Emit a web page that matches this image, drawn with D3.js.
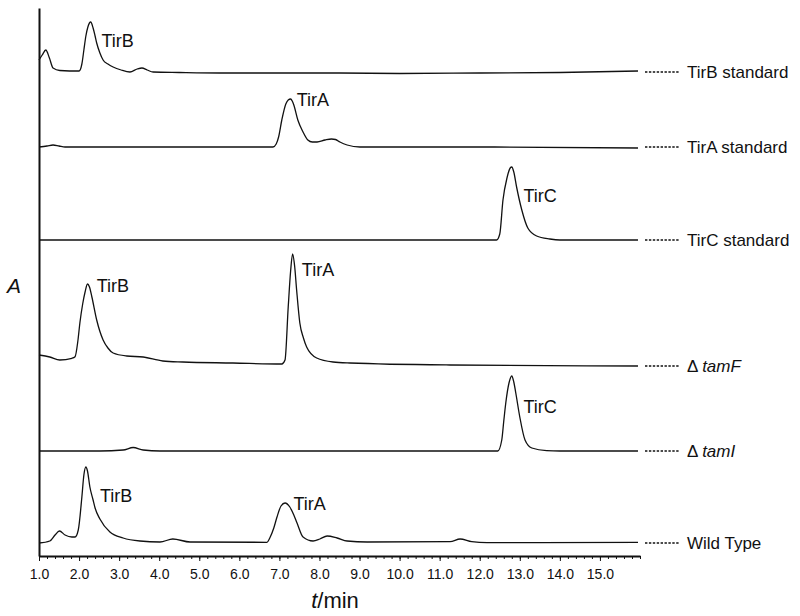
<!DOCTYPE html>
<html>
<head>
<meta charset="utf-8">
<script src="https://cdn.jsdelivr.net/npm/d3@7"></script>
<style>
body { margin: 0; background: #fff; }
text { font-family: "Liberation Sans", Arial, Helvetica, sans-serif; fill: #111; }
</style>
</head>
<body>
<div class="chromatogram"></div>
<script>
var width = 800;
var height = 616;

// HPLC traces, [time (min), signal above the trace's own baseline]
var tirBStd = [[1.0,12],[1.08,17],[1.17,22],[1.26,14],[1.35,4],[1.52,1.5],[2.0,1],[2.07,8],[2.12,22],[2.17,36],[2.22,45],[2.29,50],[2.35,44],[2.4,36],[2.44,29],[2.52,19],[2.6,12],[2.72,8],[2.85,5],[3.05,2],[3.27,0],[3.45,3],[3.57,4],[3.7,2],[3.85,0],[4.5,-0.5],[5.5,-1],[7.0,-1],[8.5,-1],[10,-1.5],[12,-1],[14,-0.5],[15.95,1]];
var tirAStd = [[1.0,0],[1.2,1],[1.35,2],[1.5,1],[1.65,0],[4,0],[6.84,0],[6.92,3],[6.98,10],[7.06,27],[7.16,43],[7.22,47],[7.28,48],[7.32,46],[7.36,42],[7.46,27],[7.59,15],[7.71,7],[7.82,5],[7.94,5],[8.14,7],[8.3,8],[8.4,7.5],[8.51,5],[8.69,2],[9.01,0],[12,0],[15.95,-1]];
var tirCStd = [[1.0,0],[6,0],[12.42,0],[12.5,6],[12.58,40],[12.68,62],[12.76,72],[12.8,73],[12.85,68],[12.92,53],[13.05,30],[13.2,12],[13.42,4],[13.75,1],[14.0,0],[15.95,0]];
var tamF = [[1.0,11],[1.27,9],[1.52,6],[1.82,7.7],[1.9,9.3],[1.97,25],[2.02,43],[2.09,62],[2.15,74],[2.21,82],[2.26,79],[2.32,69],[2.44,46],[2.6,26],[2.72,18],[2.85,13],[3.19,10],[3.6,9],[4.09,5],[4.59,4],[5.84,3],[7.06,2],[7.14,6],[7.22,59],[7.28,95],[7.33,112],[7.38,100],[7.43,76],[7.51,43],[7.6,28],[7.68,19],[7.93,8],[8.34,4],[8.76,3],[11.26,1],[15.95,0]];
var tamI = [[1.0,0],[2.52,0],[3.1,1],[3.35,3.5],[3.6,1],[4.02,0],[12.45,0],[12.55,11],[12.6,30],[12.65,48],[12.73,68],[12.8,75],[12.85,69],[12.9,58],[13.0,34],[13.13,11],[13.3,3],[13.67,0.3],[14,0],[15.95,0]];
var wildType = [[1.0,0],[1.27,2],[1.4,8],[1.51,12],[1.65,8],[1.82,6],[1.9,6],[1.98,13],[2.07,46],[2.12,68],[2.17,76],[2.21,72],[2.27,56],[2.35,43],[2.4,35],[2.52,24],[2.77,11],[3.1,5],[3.52,2],[4.02,1],[4.34,4],[4.77,1],[6.69,0.7],[6.76,5],[6.86,15],[6.94,26],[7.04,37],[7.14,40],[7.26,36],[7.36,28],[7.44,20],[7.59,6],[7.84,2],[8.01,4],[8.19,7],[8.44,5],[8.69,2],[9.19,1],[11.26,1.3],[11.51,4],[11.8,1.3],[12.18,0.3],[15.95,0.7]];

var traceData = [tirBStd, tirAStd, tirCStd, tamF, tamI, wildType];
var traceNames = ["TirB standard", "TirA standard", "TirC standard", "tamF", "tamI", "Wild Type"];
var traceMutant = [false, false, false, true, true, false];
var traceOffsets = [484, 409, 316, 190, 105, 13];

// peak labels: trace index, text, time, level above baseline
var peakLabels = [
    [0, "TirB", 2.56, 25],
    [1, "TirA", 7.43, 41],
    [2, "TirC", 13.09, 38],
    [3, "TirB", 2.44, 74],
    [3, "TirA", 7.56, 90],
    [4, "TirC", 13.09, 38],
    [5, "TirB", 2.52, 41],
    [5, "TirA", 7.35, 33]
];

var xTicks = [1, 2, 3, 4, 5, 6, 7, 8, 9, 10, 11, 12, 13, 14, 15];
var xMinorTicks = d3.range(1, 16.01, 0.2);

var x = d3.scaleLinear().domain([1, 16]).range([39, 640]);
var y = d3.scaleLinear().domain([0, 548]).range([556, 8]);

var svg = d3.select(".chromatogram")
    .append("svg")
    .attr("width", width)
    .attr("height", height);

svg.append("rect")
    .attr("width", width)
    .attr("height", height)
    .attr("fill", "white");

// traces
traceData.forEach(function(trace, i) {
    var line = d3.line()
        .x(function(d) { return x(d[0]); })
        .y(function(d) { return y(d[1] + traceOffsets[i]); })
        .curve(d3.curveMonotoneX);

    svg.append("path")
        .attr("d", line(trace))
        .attr("fill", "none")
        .attr("stroke", "#111")
        .attr("stroke-width", 1.3);

    var ly = y(traceOffsets[i]);
    svg.append("line")
        .attr("x1", 645)
        .attr("x2", 680)
        .attr("y1", ly)
        .attr("y2", ly)
        .attr("stroke", "#111")
        .attr("stroke-width", 1.4)
        .attr("stroke-dasharray", "2.4,1.5");

    var label = svg.append("text")
        .attr("x", 687)
        .attr("y", ly)
        .attr("dy", "0.35em")
        .style("font-size", "17px");
    if (traceMutant[i]) {
        label.append("tspan").text("\u0394 ");
        label.append("tspan").style("font-style", "italic").text(traceNames[i]);
    } else {
        label.text(traceNames[i]);
    }
});

svg.selectAll(".peakLabel")
    .data(peakLabels)
    .enter().append("text")
    .attr("class", "peakLabel")
    .attr("x", function(d) { return x(d[2]); })
    .attr("y", function(d) { return y(d[3] + traceOffsets[d[0]]); })
    .style("font-size", "18px")
    .text(function(d) { return d[1]; });

// axes
svg.append("g")
    .attr("transform", "translate(0," + y(0) + ")")
    .call(d3.axisBottom(x).tickValues(xMinorTicks).tickSize(3).tickSizeOuter(0).tickFormat(""))
    .call(function(g) { g.select(".domain").remove(); })
    .selectAll("line").attr("stroke", "#111");

var xAxis = svg.append("g")
    .attr("transform", "translate(0," + y(0) + ")")
    .call(d3.axisBottom(x).tickValues(xTicks).tickSize(5).tickSizeOuter(0).tickPadding(8)
        .tickFormat(d3.format(".1f")));
xAxis.select(".domain").attr("stroke", "#111").attr("stroke-width", 2);
xAxis.selectAll(".tick line").attr("stroke", "#111");
xAxis.selectAll("text")
    .style("font-family", "'Liberation Sans', Arial, sans-serif")
    .style("font-size", "14px")
    .attr("fill", "#111");

var yAxis = svg.append("g")
    .attr("transform", "translate(" + x(1) + ",0)")
    .call(d3.axisLeft(y).tickValues([]).tickSizeOuter(0));
yAxis.select(".domain").attr("stroke", "#111").attr("stroke-width", 2);

svg.append("text")
    .attr("x", 7)
    .attr("y", 293)
    .style("font-size", "21px")
    .style("font-style", "italic")
    .text("A");

var xTitle = svg.append("text")
    .attr("x", 335)
    .attr("y", 608)
    .style("text-anchor", "middle")
    .style("font-size", "22px");
xTitle.append("tspan").style("font-style", "italic").text("t");
xTitle.append("tspan").text("/min");
</script>
</body>
</html>
